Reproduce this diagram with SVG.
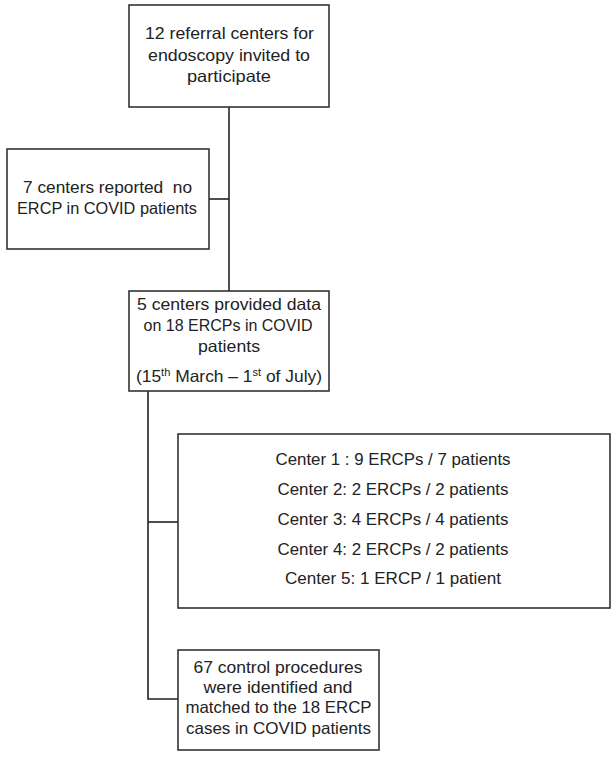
<svg xmlns="http://www.w3.org/2000/svg" width="616" height="761" viewBox="0 0 616 761">
<style>
rect.box{fill:#fff;stroke:#333;stroke-width:1.6}
text{font-family:"Liberation Sans",Arial,sans-serif;font-size:16.5px;fill:#222;text-anchor:middle}
.sup{font-size:10.5px}
#connectors path{fill:none;stroke:#222;stroke-width:1.6}
</style>
<rect width="616" height="761" fill="#fff"/>
<g id="connectors">
<path d="M229 107 V291"/>
<path d="M209 199 H229"/>
<path d="M148 391 V699 H178"/>
<path d="M148 522 H178"/>
</g>
<g id="n1">
<rect class="box" x="129" y="5" width="200" height="102"/>
<text x="229.5" y="39" textLength="169" lengthAdjust="spacingAndGlyphs">12 referral centers for</text>
<text x="229" y="61" textLength="162" lengthAdjust="spacingAndGlyphs">endoscopy invited to</text>
<text x="229" y="82" textLength="84" lengthAdjust="spacingAndGlyphs">participate</text>
</g>
<g id="n2">
<rect class="box" x="7" y="149" width="202" height="100"/>
<text x="107.5" y="193" textLength="169" lengthAdjust="spacingAndGlyphs">7 centers reported&#160; no</text>
<text x="107" y="214" textLength="180" lengthAdjust="spacingAndGlyphs">ERCP in COVID patients</text>
</g>
<g id="n3">
<rect class="box" x="129" y="291" width="200" height="100"/>
<text x="229" y="310" textLength="184" lengthAdjust="spacingAndGlyphs">5 centers provided data</text>
<text x="228" y="331" textLength="169" lengthAdjust="spacingAndGlyphs">on 18 ERCPs in COVID</text>
<text x="229" y="352" textLength="62" lengthAdjust="spacingAndGlyphs">patients</text>
<text x="229" y="382" textLength="186" lengthAdjust="spacingAndGlyphs">(15<tspan class="sup" dy="-6">th</tspan><tspan dy="6"> March – 1</tspan><tspan class="sup" dy="-6">st</tspan><tspan dy="6"> of July)</tspan></text>
</g>
<g id="n4">
<rect class="box" x="178" y="434" width="432" height="174"/>
<text x="393" y="465" textLength="235" lengthAdjust="spacingAndGlyphs">Center 1 : 9 ERCPs / 7 patients</text>
<text x="393" y="495" textLength="231" lengthAdjust="spacingAndGlyphs">Center 2: 2 ERCPs / 2 patients</text>
<text x="393" y="525" textLength="231" lengthAdjust="spacingAndGlyphs">Center 3: 4 ERCPs / 4 patients</text>
<text x="393" y="555" textLength="231" lengthAdjust="spacingAndGlyphs">Center 4: 2 ERCPs / 2 patients</text>
<text x="393" y="584" textLength="216" lengthAdjust="spacingAndGlyphs">Center 5: 1 ERCP / 1 patient</text>
</g>
<g id="n5">
<rect class="box" x="178" y="650" width="201" height="100"/>
<text x="278" y="673" textLength="169" lengthAdjust="spacingAndGlyphs">67 control procedures</text>
<text x="278" y="693" textLength="149" lengthAdjust="spacingAndGlyphs">were identified and</text>
<text x="278.5" y="713" textLength="186" lengthAdjust="spacingAndGlyphs">matched to the 18 ERCP</text>
<text x="278.5" y="734" textLength="185" lengthAdjust="spacingAndGlyphs">cases in COVID patients</text>
</g>
</svg>
